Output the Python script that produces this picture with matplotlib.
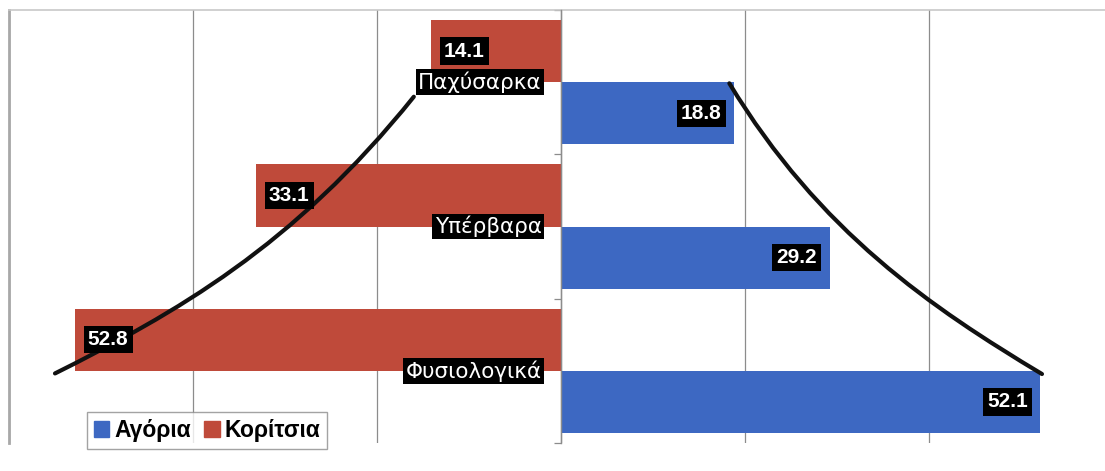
import matplotlib
matplotlib.use("Agg")
import matplotlib.pyplot as plt
from matplotlib.path import Path
from matplotlib.patches import PathPatch
import numpy as np

# ---------------- data ----------------
categories = ["Φυσιολογικά", "Υπέρβαρα", "Παχύσαρκα"]
boys = [52.1, 29.2, 18.8]      # Αγόρια
girls = [52.8, 33.1, 14.1]     # Κορίτσια
series_names = ["Αγόρια", "Κορίτσια"]
x_ticks = [-60, -40, -20, 0, 20, 40, 60]

# decorative smooth trend curves
# (cubic Bezier: start, control 1, control 2, end; x in %, y in category units)
girls_curve_x = [-55.0, -41.96, -29.1, -16.0]
girls_curve_y = [-0.018, 0.398, 0.860, 1.899]
boys_curve_x = [18.3, 28.08, 40.33, 52.28]
boys_curve_y = [1.992, 0.963, 0.435, -0.022]

BLUE = "#3D68C2"
RED = "#BF4A3A"
GRID = "#8C8C8C"

fig = plt.figure(figsize=(11.05, 4.71), dpi=100)
W, H = 1105, 471
ax = fig.add_axes([9 / W, (H - 443) / H, 1104 / W, 433 / H])

ypos = np.arange(len(categories))
bh = 0.43

ax.barh(ypos, [-g for g in girls], height=bh, align="edge", color=RED, zorder=2)
ax.barh(ypos - bh, boys, height=bh, align="edge", color=BLUE, zorder=2)

ax.set_xlim(-60, 60)
ax.set_ylim(-0.5, 2.5)
ax.set_xticks(x_ticks)
ax.tick_params(axis="x", length=0, labelbottom=False)
ax.grid(axis="x", color=GRID, lw=0.9, zorder=0)
ax.set_axisbelow(True)

ax.set_yticks([-0.5, 0.5, 1.5, 2.5])
ax.tick_params(axis="y", length=5, direction="out", color=GRID, labelleft=False, width=0.9)
ax.spines["left"].set_position(("data", 0))
ax.spines["left"].set_color(GRID)
ax.spines["left"].set_linewidth(1.0)
ax.spines["left"].set_zorder(3)
ax.spines["bottom"].set_visible(False)
ax.spines["right"].set_visible(False)
ax.spines["top"].set_color("#C8C8C8")
ax.spines["top"].set_linewidth(1.2)
# left border of plot area
ax.plot([0, 0], [0, 1], transform=ax.transAxes, color="#A8A8A8", lw=2.0, clip_on=False, zorder=1)

for cx, cy in [(girls_curve_x, girls_curve_y), (boys_curve_x, boys_curve_y)]:
    path = Path(list(zip(cx, cy)), [Path.MOVETO, Path.CURVE4, Path.CURVE4, Path.CURVE4])
    ax.add_patch(PathPatch(path, fill=False, ec="#111111", lw=3.0, capstyle="round", zorder=4))

box = dict(boxstyle="square,pad=0.2", fc="black", ec="none")
val_font = dict(family=["Liberation Sans", "DejaVu Sans"], weight="bold", size=15, color="white")

for i, (g, b) in enumerate(zip(girls, boys)):
    ax.annotate(f"{g:.1f}", xy=(-g, i + bh / 2), xytext=(9, 0), textcoords="offset points",
                ha="left", va="center", bbox=box, zorder=6, **val_font)
    ax.annotate(f"{b:.1f}", xy=(b, i - bh / 2), xytext=(-9, 0), textcoords="offset points",
                ha="right", va="center", bbox=box, zorder=6, **val_font)
    ax.annotate(categories[i], xy=(0, i), xytext=(-14, 0), textcoords="offset points",
                ha="right", va="center", bbox=dict(boxstyle="square,pad=0.1", fc="black", ec="none"),
                family=["DejaVu Sans"], size=15.5, color="white", zorder=6)

handles = [plt.Rectangle((0, 0), 1, 1, color=BLUE), plt.Rectangle((0, 0), 1, 1, color=RED)]
leg = fig.legend(handles, series_names, loc="lower left",
                 bbox_to_anchor=(87 / W, (H - 449) / H), bbox_transform=fig.transFigure,
                 ncol=2, frameon=True, fancybox=False, borderaxespad=0,
                 prop=dict(family=["Liberation Sans", "DejaVu Sans"], weight="bold", size=16.5),
                 handlelength=0.68, handleheight=0.68, handletextpad=0.2, columnspacing=0.6,
                 borderpad=0.3)
leg.get_frame().set_edgecolor("#8C8C8C")
leg.get_frame().set_linewidth(1.0)

fig.savefig("out.png", dpi=100)
